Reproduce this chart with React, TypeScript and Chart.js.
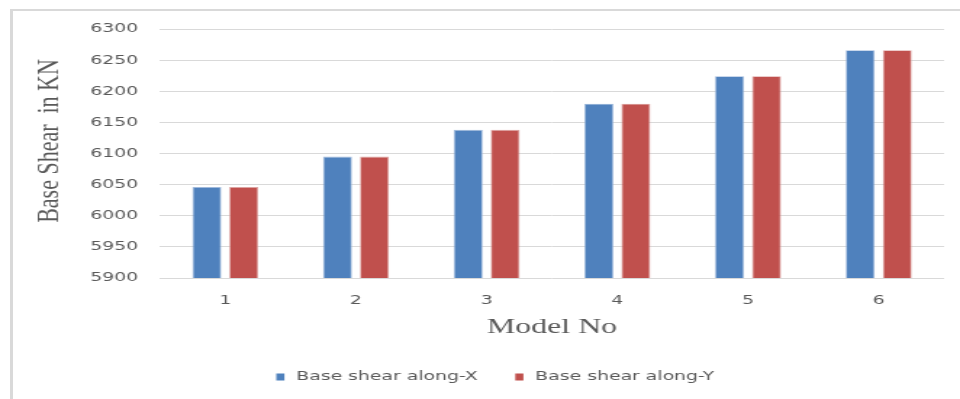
import React, { useEffect, useRef } from "react";
import { Chart, registerables } from "chart.js";

Chart.register(...registerables);

// ---- data ----
const CATEGORIES = ["1", "2", "3", "4", "5", "6"];
const SERIES_X = [6046, 6095, 6138, 6180, 6224, 6266];
const SERIES_Y = [6046, 6095, 6138, 6180, 6224, 6266];
const SERIES_LABELS = ["Base shear along-X", "Base shear along-Y"];
const SERIES_COLORS = ["#4F81BD", "#C0504D"];
const SERIES_BORDERS = ["#9FB9DC", "#DDA3A1"];
const Y_MIN = 5900;
const Y_MAX = 6300;
const Y_STEP = 50;
const X_TITLE = "Model No";
const Y_TITLE = "Base Shear  in KN";

// ---- layout (canvas drawn narrower, then stretched horizontally like the reference) ----
const VIEW_W = 960;
const VIEW_H = 399;
const STRETCH = 1.45;
const CANVAS_W = Math.round(VIEW_W / STRETCH);
const TEXT_GREY = "#595959";
const GRID_GREY = "#D9D9D9";

const extrasPlugin = {
  id: "extras",
  afterDraw(chart: any) {
    const ctx = chart.ctx as CanvasRenderingContext2D;
    // y-axis title
    ctx.save();
    ctx.fillStyle = TEXT_GREY;
    ctx.font = '22px "Liberation Serif"';
    ctx.textAlign = "center";
    ctx.textBaseline = "middle";
    ctx.translate(34.5, 141);
    ctx.rotate(-Math.PI / 2);
    ctx.fillText(Y_TITLE, 0, 0);
    ctx.restore();

    // legend
    ctx.save();
    ctx.font = '13px "DejaVu Sans"';
    ctx.textAlign = "left";
    ctx.textBaseline = "middle";
    const legendY = 377;
    const boxX = [190.5, 355.3];
    chart.data.datasets.forEach((ds: any, i: number) => {
      ctx.fillStyle = ds.backgroundColor;
      ctx.fillRect(boxX[i], legendY - 3.5, 5.6, 7);
      ctx.fillStyle = TEXT_GREY;
      ctx.fillText(ds.label, boxX[i] + 13.8, legendY);
    });
    ctx.restore();
  },
};

export default function App() {
  const canvasRef = useRef<HTMLCanvasElement | null>(null);

  useEffect(() => {
    const canvas = canvasRef.current;
    if (!canvas) return;
    const chart = new Chart(canvas, {
      type: "bar",
      data: {
        labels: CATEGORIES,
        datasets: [SERIES_X, SERIES_Y].map((values, i) => ({
          label: SERIES_LABELS[i],
          data: values,
          backgroundColor: SERIES_COLORS[i],
          borderColor: SERIES_BORDERS[i],
          borderWidth: 0.8,
          categoryPercentage: 0.566,
          barPercentage: 0.784,
        })),
      },
      options: {
        responsive: false,
        devicePixelRatio: 1,
        animation: false,
        layout: { padding: { top: 29, right: 11, bottom: 58.8, left: 0 } },
        plugins: {
          legend: { display: false },
          tooltip: { enabled: false },
          title: { display: false },
        },
        scales: {
          x: {
            afterFit(scale: any) {
              scale.height = 62.2;
            },
            grid: { display: false, drawTicks: false },
            border: { display: false },
            ticks: {
              padding: 15,
              color: TEXT_GREY,
              font: { family: "DejaVu Sans", size: 13 },
            },
            title: {
              display: true,
              text: X_TITLE,
              color: TEXT_GREY,
              font: { family: "Liberation Serif", size: 22 },
              padding: { top: 6.2, bottom: 0 },
            },
          },
          y: {
            min: Y_MIN,
            max: Y_MAX,
            afterFit(scale: any) {
              scale.width = 110.3;
            },
            grid: { color: GRID_GREY, lineWidth: 1, drawTicks: false },
            border: { display: false },
            ticks: {
              stepSize: Y_STEP,
              padding: 15,
              color: TEXT_GREY,
              font: { family: "DejaVu Sans", size: 13 },
              callback: (v: any) => String(v),
            },
          },
        },
      },
      plugins: [extrasPlugin],
    });
    return () => chart.destroy();
  }, []);

  return (
    <div
      style={{
        position: "fixed",
        left: 0,
        top: 0,
        width: VIEW_W,
        height: VIEW_H,
        background: "#ffffff",
        overflow: "hidden",
      }}
    >
      <div
        style={{
          position: "absolute",
          left: 10,
          top: 9,
          right: 0,
          bottom: 0,
          borderTop: `2px solid ${GRID_GREY}`,
          borderLeft: `3px solid ${GRID_GREY}`,
        }}
      />
      <canvas
        ref={canvasRef}
        width={CANVAS_W}
        height={VIEW_H}
        style={{
          position: "absolute",
          left: 0,
          top: 0,
          width: `${VIEW_W}px`,
          height: `${VIEW_H}px`,
          display: "block",
        }}
      />
    </div>
  );
}
